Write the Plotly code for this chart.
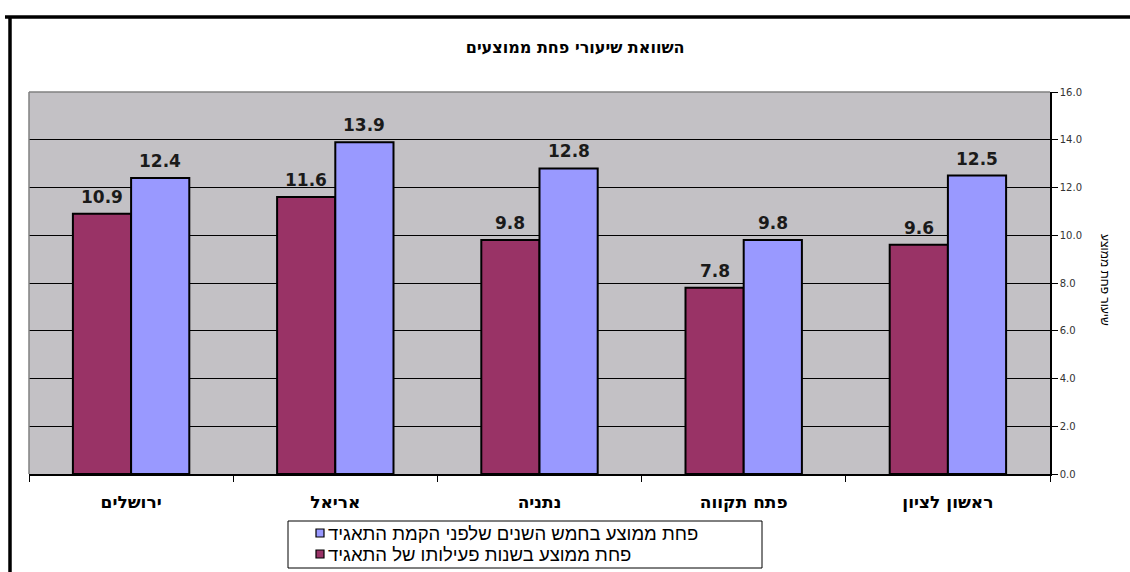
import plotly.graph_objects as go

# Cities, left to right
cities = ["ירושלים", "אריאל", "נתניה", "פתח תקווה", "ראשון לציון"]

# Average depreciation rate during the corporation's years of operation
rate_active = [10.9, 11.6, 9.8, 7.8, 9.6]
# Average depreciation rate in the five years before the corporation was founded
rate_before = [12.4, 13.9, 12.8, 9.8, 12.5]

name_active = "פחת ממוצע בשנות פעילותו של התאגיד"
name_before = "פחת ממוצע בחמש השנים שלפני הקמת התאגיד"

title_text = "השוואת שיעורי פחת ממוצעים"
y_title = "שיעור פחת ממוצע"
y_ticks = [0, 2, 4, 6, 8, 10, 12, 14, 16]

COLOR_ACTIVE = "#993366"
COLOR_BEFORE = "#9999FF"

FONT = "Liberation Sans, Arial, sans-serif"
WIDE = "DejaVu Sans, Liberation Sans, sans-serif"

# plot-area geometry (pixels)
W, H = 1130, 572
ML, MR, MT, MB = 29, 80, 92, 98
PW, PH = W - ML - MR, H - MT - MB
BARGAP = 0.43
bar_px = PW / len(cities) * (1 - BARGAP) / 2   # width of one bar


def px_x(v):
    return (v - ML) / PW


def px_y(v):
    return (H - MB - v) / PH


fig = go.Figure()
fig.add_trace(go.Bar(
    x=cities, y=rate_active, name=name_active,
    marker=dict(color=COLOR_ACTIVE, line=dict(color="#000000", width=2)),
))
fig.add_trace(go.Bar(
    x=cities, y=rate_before, name=name_before,
    marker=dict(color=COLOR_BEFORE, line=dict(color="#000000", width=2)),
))

# value labels above each bar
annotations = []
for series, shift in ((rate_active, -bar_px / 2), (rate_before, bar_px / 2)):
    for c, v in zip(cities, series):
        annotations.append(dict(
            x=c, y=v, xref="x", yref="y", text=f"{v:.1f}", showarrow=False,
            xanchor="center", yanchor="bottom", xshift=shift, yshift=5,
            font=dict(family=WIDE, size=17, color="#1a1a1a", weight="bold"),
        ))

annotations.append(dict(
    text=y_title, textangle=90, showarrow=False,
    xref="paper", yref="paper", x=px_x(1105), y=px_y(280),
    xanchor="center", yanchor="middle",
    font=dict(family=FONT, size=12, color="#000000"),
))

shapes = [
    # plot area outline on the left and top
    dict(type="line", xref="paper", yref="paper", x0=0, x1=0, y0=0, y1=1,
         line=dict(color="#808080", width=1.5)),
    dict(type="line", xref="paper", yref="paper", x0=0, x1=1, y0=1, y1=1,
         line=dict(color="#808080", width=1.5)),
    # outer frame (left and top edges)
    dict(type="line", xref="paper", yref="paper",
         x0=px_x(10), x1=px_x(10), y0=px_y(580), y1=px_y(17),
         line=dict(color="#000000", width=3.5)),
    dict(type="line", xref="paper", yref="paper",
         x0=px_x(5), x1=px_x(1140), y0=px_y(17), y1=px_y(17),
         line=dict(color="#000000", width=3.5)),
    # legend box
    dict(type="rect", xref="paper", yref="paper",
         x0=px_x(288), x1=px_x(762), y0=px_y(568), y1=px_y(521),
         line=dict(color="#000000", width=1), fillcolor="#FFFFFF"),
]

# legend entries: swatch followed by series name
for row_y, name, color in ((533, name_before, COLOR_BEFORE),
                           (554, name_active, COLOR_ACTIVE)):
    shapes.append(dict(
        type="rect", xref="paper", yref="paper",
        x0=px_x(316), x1=px_x(324), y0=px_y(row_y + 4), y1=px_y(row_y - 4),
        line=dict(color="#000000", width=1.2), fillcolor=color,
    ))
    annotations.append(dict(
        text=name, showarrow=False, xref="paper", yref="paper",
        x=px_x(326), y=px_y(row_y), xanchor="left", yanchor="middle",
        font=dict(family=FONT, size=18.5, color="#000000"),
    ))

fig.update_layout(
    width=W, height=H,
    margin=dict(l=ML, r=MR, t=MT, b=MB, autoexpand=False),
    paper_bgcolor="#FFFFFF",
    plot_bgcolor="#C3C1C5",
    barmode="group", bargap=BARGAP, bargroupgap=0,
    font=dict(family=FONT, color="#000000"),
    title=dict(text=f"<b>{title_text}</b>", font=dict(size=16, family=WIDE),
               x=0.509, xref="container", xanchor="center",
               y=1 - 47 / H, yref="container", yanchor="middle"),
    showlegend=False,
    xaxis=dict(
        showline=True, linecolor="#000000", linewidth=1.5,
        ticks="outside", tickson="boundaries", ticklen=6, tickcolor="#000000",
        tickfont=dict(family=WIDE, size=17, color="#000000", weight="bold"),
        ticklabelstandoff=12,
        showgrid=False, mirror=False,
    ),
    yaxis=dict(
        side="right", range=[0, 16], tickvals=y_ticks, tickformat=".1f",
        showline=True, linecolor="#000000", linewidth=1.5,
        ticks="outside", ticklen=6, tickcolor="#000000",
        tickfont=dict(family=WIDE, size=10, color="#333333"),
        showgrid=True, gridcolor="#000000", gridwidth=1,
        zeroline=False,
    ),
    annotations=annotations,
    shapes=shapes,
)

fig.write_html("out.html")
